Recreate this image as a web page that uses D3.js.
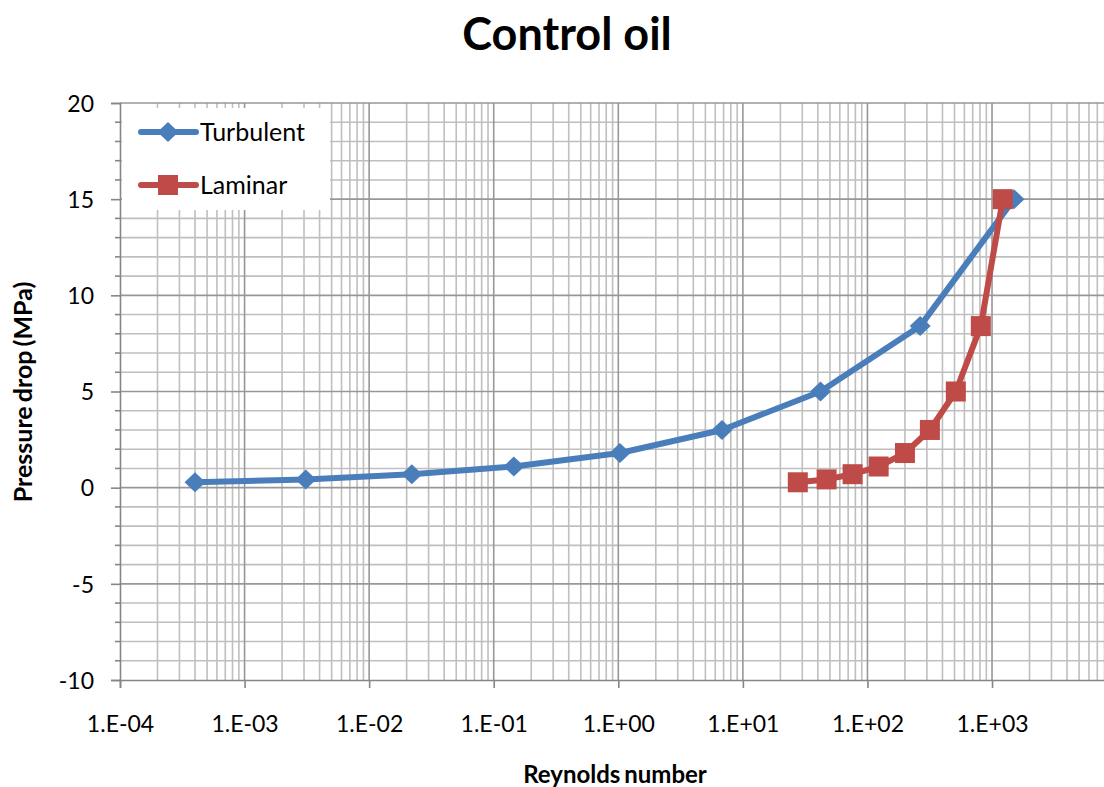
<!DOCTYPE html>
<html>
<head>
<meta charset="utf-8">
<script src="https://cdn.jsdelivr.net/npm/d3@7"></script>
<style>
body { margin: 0; background: #fff; overflow: hidden; }
text { font-family: Lato, "Open Sans", sans-serif; }
</style>
</head>
<body>
<div id="chart"></div>
<script>
// data
var pressure = [0.28, 0.43, 0.7, 1.1, 1.8, 3.0, 5.0, 8.4, 15.0]
var reTurbulent = [4.0e-4, 3.1e-3, 2.2e-2, 0.145, 1.03, 6.8, 42, 265, 1500]
var reLaminar = [27.6, 47, 76, 123, 200, 317, 512, 813, 1220]
var xTicks = [1e-4, 1e-3, 1e-2, 1e-1, 1e0, 1e1, 1e2, 1e3]
var yTicks = [-10, -5, 0, 5, 10, 15, 20]

var w = 1104
var h = 787
var plotLeft = 120, plotTop = 103, plotBottom = 680
var plotRight = 1116.6

var svg = d3.select("#chart")
    .append("svg")
    .attr("width", w)
    .attr("height", h)

var x = d3.scaleLog().domain([1e-4, 1e4]).range([plotLeft, plotRight])
var y = d3.scaleLinear().domain([-10, 20]).range([plotBottom, plotTop])

var defs = svg.append("defs")
defs.append("clipPath").attr("id", "plotclip")
    .append("rect").attr("x", plotLeft).attr("y", plotTop - 1)
    .attr("width", plotRight - plotLeft).attr("height", plotBottom - plotTop + 2)

var grid = svg.append("g").attr("clip-path", "url(#plotclip)")

//minor vertical grid
var minorX = []
for (var e = -4; e < 4; e++) {
    for (var k = 2; k <= 9; k++) minorX.push(k * Math.pow(10, e))
}
grid.selectAll(".vminor")
    .data(minorX)
    .enter()
    .append("line")
    .attr("x1", d => x(d)).attr("x2", d => x(d))
    .attr("y1", plotTop).attr("y2", plotBottom)
    .attr("stroke", "#bfbfbf")
    .attr("stroke-width", 1.6)

//horizontal grid, each unit
grid.selectAll(".hminor")
    .data(d3.range(-9, 21))
    .enter()
    .append("line")
    .attr("x1", plotLeft).attr("x2", plotRight)
    .attr("y1", d => y(d)).attr("y2", d => y(d))
    .attr("stroke", d => d % 5 == 0 ? "#979797" : "#bfbfbf")
    .attr("stroke-width", 1.6)

//major vertical grid
grid.selectAll(".vmajor")
    .data(xTicks.slice(1).concat([1e4]))
    .enter()
    .append("line")
    .attr("x1", d => x(d)).attr("x2", d => x(d))
    .attr("y1", plotTop).attr("y2", plotBottom)
    .attr("stroke", "#979797")
    .attr("stroke-width", 1.6)

//axes
var xAxis = svg.append("g")
    .attr("transform", "translate(0," + plotBottom + ")")
    .call(d3.axisBottom(x).tickValues(xTicks).tickSize(8).tickFormat(function(d) {
        var ex = Math.round(Math.log10(d))
        return "1.E" + (ex < 0 ? "-" : "+") + String(Math.abs(ex)).padStart(2, "0")
    }))
xAxis.select(".domain").attr("stroke", "#868686").attr("stroke-width", 1.6)
xAxis.selectAll(".tick line").attr("stroke", "#868686").attr("stroke-width", 1.6)
xAxis.selectAll(".tick text")
    .attr("dy", 0).attr("y", 52)
    .attr("font-size", 23).attr("fill", "#000")

var yAxis = svg.append("g")
    .attr("transform", "translate(" + plotLeft + ",0)")
    .call(d3.axisLeft(y).tickValues(yTicks).tickSize(9).tickPadding(17).tickFormat(d => String(d)))
yAxis.select(".domain").attr("stroke", "#868686").attr("stroke-width", 1.6)
yAxis.selectAll(".tick line").attr("stroke", "#868686").attr("stroke-width", 1.6)
yAxis.selectAll(".tick text").attr("font-size", 23).attr("fill", "#000").attr("dy", "0.36em")

//minor y ticks
svg.selectAll(".yminortick")
    .data(d3.range(-9, 20).filter(d => d % 5 != 0))
    .enter()
    .append("line")
    .attr("x1", plotLeft - 5).attr("x2", plotLeft)
    .attr("y1", d => y(d)).attr("y2", d => y(d))
    .attr("stroke", "#868686")
    .attr("stroke-width", 1.6)

//legend box covers grid
svg.append("rect")
    .attr("x", plotLeft + 2).attr("y", 108)
    .attr("width", 208).attr("height", 102)
    .attr("fill", "#fff")

//series
var blue = "#4a7ebb"
var red = "#be4b48"

var line = d3.line().x(d => x(d[0])).y(d => y(d[1]))
var turb = reTurbulent.map((d, i) => [d, pressure[i]])
var lam = reLaminar.map((d, i) => [d, pressure[i]])

svg.append("path")
    .attr("d", line(turb))
    .attr("fill", "none")
    .attr("stroke", blue)
    .attr("stroke-width", 6)
    .attr("stroke-linejoin", "round")

svg.append("path")
    .attr("d", line(lam))
    .attr("fill", "none")
    .attr("stroke", red)
    .attr("stroke-width", 6)
    .attr("stroke-linejoin", "round")

var diamond = "M0,-10L10.5,0L0,10L-10.5,0Z"

svg.selectAll(".turbpt")
    .data(turb)
    .enter()
    .append("path")
    .attr("d", diamond)
    .attr("transform", d => "translate(" + x(d[0]) + "," + y(d[1]) + ")")
    .attr("fill", blue)

svg.selectAll(".lampt")
    .data(lam)
    .enter()
    .append("rect")
    .attr("x", d => x(d[0]) - 10)
    .attr("y", d => y(d[1]) - 10)
    .attr("width", 20).attr("height", 20)
    .attr("fill", red)

//legend
var leg = svg.append("g")
leg.append("line").attr("x1", 141).attr("x2", 196).attr("y1", 132).attr("y2", 132)
    .attr("stroke", blue).attr("stroke-width", 6).attr("stroke-linecap", "round")
leg.append("path").attr("d", diamond).attr("transform", "translate(168,132)").attr("fill", blue)
leg.append("text").attr("x", 200).attr("y", 141).text("Turbulent").attr("font-size", 25)

leg.append("line").attr("x1", 141).attr("x2", 196).attr("y1", 185).attr("y2", 185)
    .attr("stroke", red).attr("stroke-width", 6).attr("stroke-linecap", "round")
leg.append("rect").attr("x", 158).attr("y", 175).attr("width", 20).attr("height", 20).attr("fill", red)
leg.append("text").attr("x", 200).attr("y", 194).text("Laminar").attr("font-size", 25)

//titles
svg.append("text")
    .attr("x", 567).attr("y", 50)
    .attr("text-anchor", "middle")
    .attr("font-size", 45).attr("font-weight", "bold")
    .text("Control oil")

svg.append("text")
    .attr("x", 615).attr("y", 783)
    .attr("text-anchor", "middle")
    .attr("font-size", 24).attr("font-weight", "bold")
    .attr("word-spacing", -2)
    .text("Reynolds number")

svg.append("text")
    .attr("transform", "translate(32,392) rotate(-90)")
    .attr("text-anchor", "middle")
    .attr("font-size", 25).attr("font-weight", "bold")
    .attr("word-spacing", -2)
    .text("Pressure drop (MPa)")
</script>
</body>
</html>
